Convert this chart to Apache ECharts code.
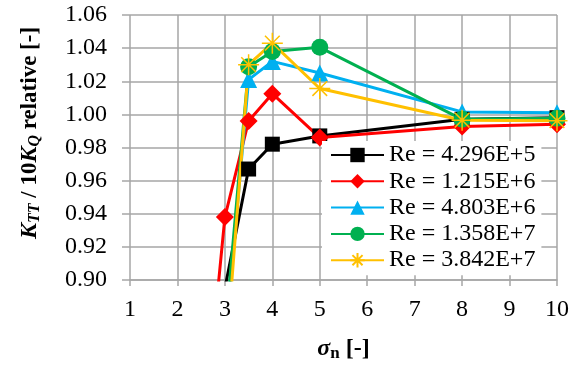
<!DOCTYPE html>
<html lang="en">
<head>
	<meta charset="UTF-8">
	<title>KTT / 10KQ relative</title>
	<style>
	body, div {
		margin: 0;
		padding: 0;
	}
	.echart {
		width: 582px;
		height: 369px;
		background: #fff;
	}
	</style>
</head>
<body>
	<div id="echart" class="echart"></div>

	<script src="https://cdn.jsdelivr.net/npm/echarts@6/dist/echarts.min.js"></script>

	<script>

	// sigma_n values, shared by all series (null = no point)
	var sigma = [2.5, 3, 3.5, 4, 5, 8, 10];

	var re4296E5 = [null, 0.895, 0.967, 0.982, 0.987, 0.997, 0.998];
	var re1215E6 = [0.790, 0.938, 0.996, 1.0125, 0.986, 0.9927, 0.994];
	var re4803E6 = [null, 0.860, 1.021, 1.032, 1.025, 1.0015, 1.001];
	var re1358E7 = [null, 0.867, 1.0287, 1.038, 1.0405, 0.997, 0.9976];
	var re3842E7 = [null, 0.845, 1.030, 1.043, 1.0156, 0.9965, 0.9962];

	var names = ['Re = 4.296E+5', 'Re = 1.215E+6', 'Re = 4.803E+6', 'Re = 1.358E+7', 'Re = 3.842E+7'];
	var yTicks = [0.90, 0.92, 0.94, 0.96, 0.98, 1.00, 1.02, 1.04, 1.06];

	var serif = "'Liberation Serif', 'Times New Roman', serif";
	var gridColor = '#a6a6a6';

	// asterisk marker (X + vertical bar)
	var starPath = 'path://M10,0 L10,20 M3,3 L17,17 M17,3 L3,17 M0,10 L20,10';

	function pairs(vals) {
		var out = [];
		for (var i = 0; i < sigma.length; i++) {
			if (vals[i] !== null) out.push([sigma[i], vals[i]]);
		}
		return out;
	}

	function mkSeries(name, vals, color, symbol, size) {
		return {
			name: name,
			type: 'line',
			data: pairs(vals),
			symbol: symbol,
			symbolSize: size,
			showAllSymbol: true,
			clip: true,
			lineStyle: { color: color, width: 3 },
			itemStyle: symbol === starPath
				? { color: 'none', borderColor: color, borderWidth: 1.5 }
				: { color: color, borderColor: color, borderWidth: 0 },
			emphasis: { disabled: true },
			z: 2
		};
	}

	var myChart = echarts.init(document.getElementById('echart'), null, { renderer: 'canvas' });

	myChart.setOption({
		animation: false,
		textStyle: { fontFamily: serif, color: '#000' },
		grid: { left: 130, right: 25, top: 15, bottom: 89 },
		// y axis title, placed by hand (it sits above the plot centre)
		graphic: [{
			type: 'text',
			x: 30,
			y: 133,
			rotation: Math.PI / 2,
			style: {
				text: '{k|K}{ks|TT}{n| / 10}{k|K}{ks|Q}{n| relative [-]}',
				align: 'center',
				verticalAlign: 'middle',
				rich: {
					k: { fontFamily: serif, fontSize: 24, fontWeight: 'bold', fontStyle: 'italic', fill: '#000' },
					ks: { fontFamily: serif, fontSize: 16, fontWeight: 'bold', fontStyle: 'italic', fill: '#000', padding: [10, 0, 0, 0] },
					n: { fontFamily: serif, fontSize: 23, fontWeight: 'bold', fill: '#000' }
				}
			}
		}],
		legend: {
			orient: 'vertical',
			left: 322,
			top: 141,
			padding: [1, 6, 2, 8],
			backgroundColor: '#fff',
			itemWidth: 53,
			itemHeight: 18,
			itemGap: 0.3,
			textStyle: { fontFamily: serif, fontSize: 24, color: '#000', lineHeight: 26 },
			data: names
		},
		xAxis: {
			type: 'value',
			min: 1,
			max: 10,
			interval: 1,
			name: '{s|σ}{sub|n}{n| [-]}',
			nameLocation: 'middle',
			nameGap: 55,
			nameTextStyle: {
				rich: {
					s: { fontFamily: serif, fontSize: 24, fontWeight: 'bold', fontStyle: 'italic' },
					sub: { fontFamily: serif, fontSize: 17, fontWeight: 'bold', padding: [10, 0, 0, 0] },
					n: { fontFamily: serif, fontSize: 24, fontWeight: 'bold' }
				}
			},
			axisLine: { lineStyle: { color: gridColor, width: 1.5 } },
			axisTick: { show: true, length: 6, lineStyle: { color: gridColor, width: 1.5 } },
			axisLabel: { fontFamily: serif, fontSize: 24, color: '#000', margin: 18 },
			splitLine: { show: true, lineStyle: { color: gridColor, width: 1.5 } }
		},
		yAxis: {
			type: 'value',
			min: yTicks[0],
			max: yTicks[yTicks.length - 1],
			interval: 0.02,
			axisLine: { show: false },
			axisTick: { show: true, length: 8, lineStyle: { color: gridColor, width: 1.5 } },
			axisLabel: {
				fontFamily: serif, fontSize: 24, color: '#000', margin: 23,
				formatter: function (v) { return v.toFixed(2); }
			},
			splitLine: { show: true, lineStyle: { color: gridColor, width: 1.5 } }
		},
		series: [
			mkSeries(names[0], re4296E5, '#000000', 'rect', 15),
			mkSeries(names[1], re1215E6, '#ff0000', 'diamond', 18),
			mkSeries(names[2], re4803E6, '#00b0f0', 'triangle', 17),
			mkSeries(names[3], re1358E7, '#00b050', 'circle', 17),
			mkSeries(names[4], re3842E7, '#ffc000', starPath, 21)
		]
	});

	</script>
</body>
</html>
